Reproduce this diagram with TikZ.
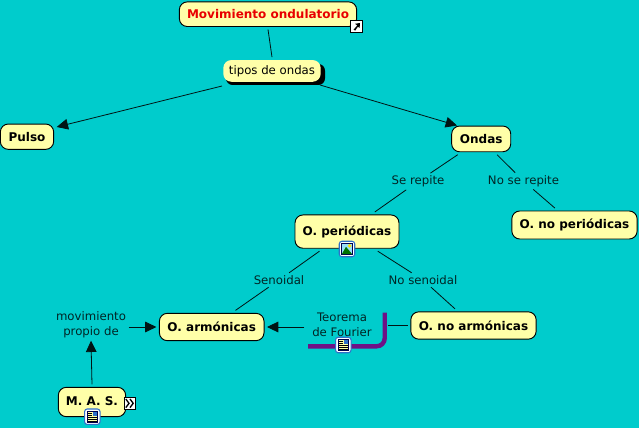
\documentclass[tikz,border=0pt]{standalone}
\usepackage{fontspec}
\setmainfont{DejaVu Sans}
\usetikzlibrary{arrows.meta}
\definecolor{bgteal}{HTML}{00CCCC}
\definecolor{nodey}{HTML}{FFFFA8}
\definecolor{purp}{HTML}{6E1186}
\definecolor{titlered}{HTML}{E80000}
\definecolor{iconblue}{HTML}{2F6FC8}
\tikzset{
  x=0.75pt,y=-0.75pt,
  concept/.style={draw=black,line width=0.7pt,fill=nodey,rounded corners=6pt,inner sep=0pt,outer sep=2.2pt,font=\fontsize{9}{11}\selectfont\bfseries},
  lbl/.style={inner sep=1.5pt,outer sep=0.5pt,font=\fontsize{8.8}{11}\selectfont,align=center,text=black!82!bgteal},
  conn/.style={draw=black!90!bgteal,line width=0.6pt},
  arr/.style={conn,-{Triangle[length=8.5pt,width=8pt]}},
  iconframe/.style={draw=iconblue,line width=0.8pt,fill=white,rounded corners=2pt,minimum size=11.6pt,inner sep=0pt},
  iconinner/.style={draw=black!70!blue,line width=0.5pt,minimum size=8pt,inner sep=0pt},
  linkbox/.style={draw=black,line width=0.6pt,fill=white,minimum size=8.6pt,inner sep=0pt},
}
\begin{document}
\begin{tikzpicture}
\useasboundingbox (0,0) rectangle (639,428);
\fill[bgteal] (0,0) rectangle (639,428);

% concepts
\node[concept,text=titlered,minimum width=133pt,minimum height=18.5pt] (mov) at (268,14.2) {Movimiento ondulatorio};
\fill[black,rounded corners=5pt] (226,64) rectangle (325,85);
\node[concept,draw=none,font=\fontsize{8.8}{11}\selectfont,minimum width=73pt,minimum height=16.3pt] (tip) at (272,70.9) {tipos de ondas};
\node[concept,minimum width=40pt,minimum height=19pt] (pul) at (27,136.7) {Pulso};
\node[concept,minimum width=44.3pt,minimum height=19.3pt] (ond) at (481.2,138.9) {Ondas};
\node[concept,minimum width=78pt,minimum height=25pt] (per) at (347,231.6) {O. periódicas};
\node[concept,minimum width=94pt,minimum height=21pt] (nop) at (574.5,225) {O. no periódicas};
\node[concept,minimum width=78.5pt,minimum height=20.5pt] (arm) at (211.7,327) {\raisebox{-0.5pt}{O. armónicas}};
\node[concept,minimum width=94pt,minimum height=20.5pt] (noa) at (473.5,325.5) {O. no armónicas};
\node[concept,minimum width=50.5pt,minimum height=22pt] (mas) at (92,402) {\raisebox{1.4pt}{M. A. S.}};

% labels
\node[lbl] (ser) at (418,181.5) {Se repite};
\node[lbl] (nsr) at (523.5,181) {No se repite};
\node[lbl] (sen) at (279,280) {Senoidal};
\node[lbl] (nse) at (423,280) {No senoidal};
\node[lbl,minimum width=55.5pt] (teo) at (342,325) {Teorema\\de Fourier};
\node[lbl] (prop) at (91,325) {movimiento\\propio de};

% Fourier bracket
\draw[purp,line width=3.3pt,rounded corners=6pt] (384.7,312.5) -- (384.7,346.3) -- (308,346.3);
\coordinate (teoR) at (388,325.5);

% free ends of the slanted arrows
\coordinate (tipL) at (222,86);
\coordinate (pulT) at (56.7,127);
\coordinate (tipR) at (320,85);
\coordinate (ondT) at (457,125.5);

% connectors
\draw[conn] (mov.south) -- (tip.north);
\draw[arr] (tipL) -- (pulT);
\draw[arr] (tipR) -- (ondT);
\draw[conn] (ond) -- (ser);
\draw[conn] (ser) -- (per);
\draw[conn] (ond) -- (nsr);
\draw[conn] (nsr) -- (nop);
\draw[conn] (per) -- (sen);
\draw[conn] (sen) -- (arm);
\draw[conn] (per) -- (nse);
\draw[conn] (nse) -- (noa);
\draw[conn] (noa.west) -- (teoR);
\draw[arr] (teo.west |- arm.east) -- (arm.east);
\draw[arr] (prop.east |- arm.west) -- (arm.west);
\draw[arr] (mas.north) -- (prop.south);

% icons
\node[linkbox] (ic1) at (356.5,26.5) {};
\fill[black] (353.6,29.6) -- (357.2,25.6) -- (355.2,23.8) -- (360,23) -- (359.6,28) -- (358,26.6) -- (355.2,30.6) -- cycle;
\node[linkbox] (ic2) at (129.7,403.3) {};
\draw[black,line width=1pt] (125.8,399) -- (129,403.3) -- (125.8,407.6) (130,399) -- (133.2,403.3) -- (130,407.6);

\node[iconframe] (ic3) at (347,249) {};
\node[iconinner,fill=white!60!cyan] (ic3i) at (347,249) {};
\fill[green!45!black] (341.8,254.2) -- (346,246.8) -- (352.2,254.2) -- cycle;
\fill[yellow!85!orange] (349.6,245.8) circle (1.9);

\node[iconframe] (ic4) at (343.3,345) {};
\node[iconinner,fill=nodey] (ic4i) at (343.3,345) {};
\fill[iconblue] (344.2,339.8) rectangle (348.4,344);
\foreach \yy in {341.3,343.3}{\draw[black,line width=0.6pt] (338.8,\yy) -- (343.2,\yy);}
\foreach \yy in {345.4,347.6,349.6}{\draw[black,line width=0.6pt] (338.8,\yy) -- (347.8,\yy);}

\node[iconframe] (ic5) at (92.3,416.7) {};
\node[iconinner,fill=nodey] (ic5i) at (92.3,416.7) {};
\fill[iconblue] (93.2,411.5) rectangle (97.4,415.7);
\foreach \yy in {413,415}{\draw[black,line width=0.6pt] (87.8,\yy) -- (92.2,\yy);}
\foreach \yy in {417.1,419.3,421.3}{\draw[black,line width=0.6pt] (87.8,\yy) -- (96.8,\yy);}
\end{tikzpicture}
\end{document}
